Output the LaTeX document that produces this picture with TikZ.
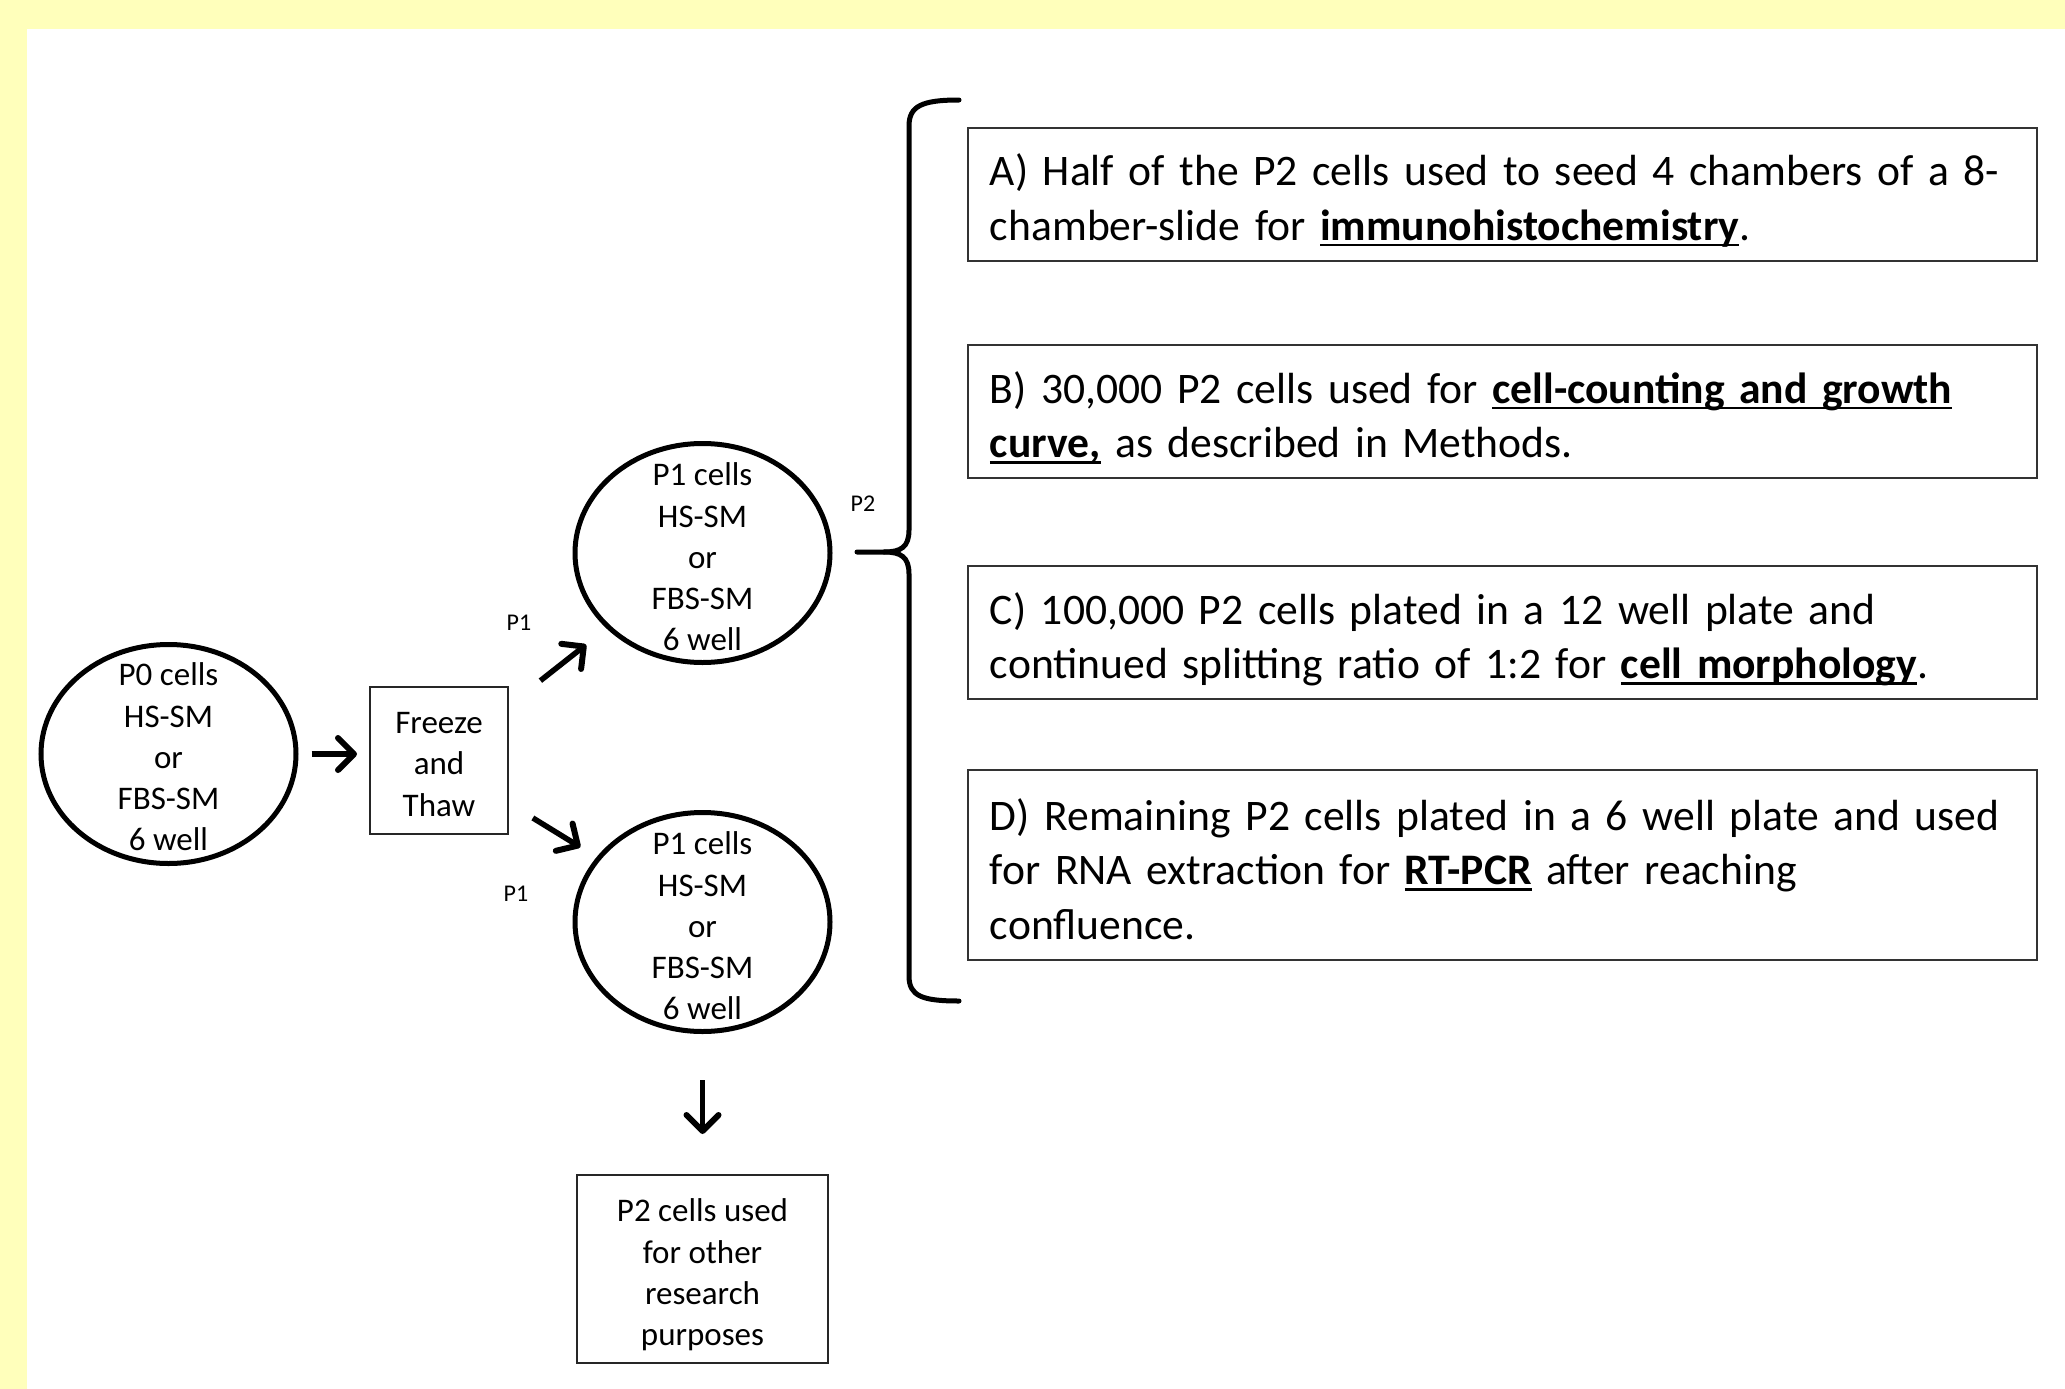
\documentclass[tikz,border=0pt]{standalone}
\usepackage{fontspec}
\setmainfont{Carlito}
\usetikzlibrary{arrows.meta,shapes.geometric,calc}
\newcommand{\bu}[1]{\leavevmode{\setbox0=\hbox{\textbf{#1}}\rlap{\rule[-6pt]{\wd0}{2.5pt}}\box0}}
\definecolor{yel}{RGB}{255,255,187}
\begin{document}
\begin{tikzpicture}[x=1pt,y=-1pt,
  cellell/.style={ellipse, draw, line width=5pt, minimum width=255pt, minimum height=219pt, inner sep=0pt},
  smalltxt/.style={align=center, font=\fontsize{33pt}{41.3pt}\selectfont, inner sep=0pt},
  sqbox/.style={draw=black!85, line width=2pt, inner sep=0pt},
  infobox/.style={draw=black!80, line width=2.5pt, minimum width=1069pt, inner sep=0pt},
  infotxt/.style={anchor=west, text width=1030pt, inner sep=0pt, align=left, font=\fontsize{43.6pt}{54.3pt}\selectfont},
  arr/.style={line width=5.5pt, -{Straight Barb[length=16pt,width=32pt,line width=6pt,round]}},
  lbl/.style={font=\fontsize{24pt}{28pt}\selectfont, inner sep=0pt},
  brace/.style={line width=5pt, line cap=round}
]
\fill[yel] (0,0) rectangle (2065,1389);
\fill[white] (27,29) rectangle (2065,1389);
\useasboundingbox (0,0) rectangle (2065,1389);

% cell ellipses
\node[cellell] (p0) at (168.5,754) {};
\node[smalltxt] (p0t) at ([shift={(0,3)}]p0.center) {P0 cells\\HS-SM\\or\\FBS-SM\\6 well};
\node[cellell] (p1a) at (702.5,553) {};
\node[smalltxt] (p1at) at ([shift={(0,4)}]p1a.center) {P1 cells\\HS-SM\\or\\FBS-SM\\6 well};
\node[cellell] (p1b) at (702.5,922) {};
\node[smalltxt] (p1bt) at ([shift={(0,4)}]p1b.center) {P1 cells\\HS-SM\\or\\FBS-SM\\6 well};

% boxes
\node[sqbox, minimum width=138pt, minimum height=147pt] (fz) at (439,760.5) {};
\node[smalltxt] (fzt) at ([shift={(0,4)}]fz.center) {Freeze\\and\\Thaw};
\node[sqbox, minimum width=251pt, minimum height=188pt] (p2) at (702.5,1269) {};
\node[smalltxt] (p2t) at ([shift={(0,6)}]p2.center) {P2 cells used\\for other\\research\\purposes};

% arrows
\draw[arr, shorten <=13pt, shorten >=12pt] (p0.east) -- (p0.east -| fz.west);
\draw[arr, shorten <=40pt, shorten >=26pt] (fz) -- (p1a);
\draw[arr, shorten <=28pt, shorten >=19pt] (fz) -- (p1b);
\draw[arr, shorten <=46pt, shorten >=40pt] (p1b.south) -- (p2.north);

% labels
\node[lbl] (l1) at (519,623) {P1};
\node[lbl] (l2) at (516,894) {P1};
\node[lbl] (l3) at (863,504) {P2};

% brace
\coordinate (btop) at (959,100);
\coordinate (btip) at (857,552);
\coordinate (bbot) at (959,1001);
\draw[brace] (btop) .. controls (922,100) and (909,106) .. (909,126) -- (909,530)
  .. controls (909,547) and (901,552) .. (884,552) -- (btip);
\draw[brace] (884,552) .. controls (901,552) and (909,557) .. (909,574) -- (909,976)
  .. controls (909,996) and (922,1001) .. (bbot);

% info boxes
\node[infobox, minimum height=133pt] (ba) at (1502.5,194.5) {};
\node[infotxt] (bat) at ([shift={(23,6)}]ba.west) {A) Half of the P2 cells used to seed 4 chambers of a 8-\\chamber-slide for \bu{immunohistochemistry}.};
\node[infobox, minimum height=133pt] (bb) at (1502.5,411.5) {};
\node[infotxt] (bbt) at ([shift={(23,6)}]bb.west) {B) 30,000 P2 cells used for \bu{cell-counting and growth}\\\bu{curve,} as described in Methods.};
\node[infobox, minimum height=133pt] (bc) at (1502.5,632.5) {};
\node[infotxt] (bct) at ([shift={(23,7)}]bc.west) {C) 100,000 P2 cells plated in a 12 well plate and\\continued splitting ratio of 1:2 for \bu{cell morphology}.};
\node[infobox, minimum height=190pt] (bd) at (1502.5,865) {};
\node[infotxt] (bdt) at ([shift={(23,4)}]bd.west) {D) Remaining P2 cells plated in a 6 well plate and used\\for RNA extraction for \bu{RT-PCR} after reaching\\confluence.};
\end{tikzpicture}
\end{document}
